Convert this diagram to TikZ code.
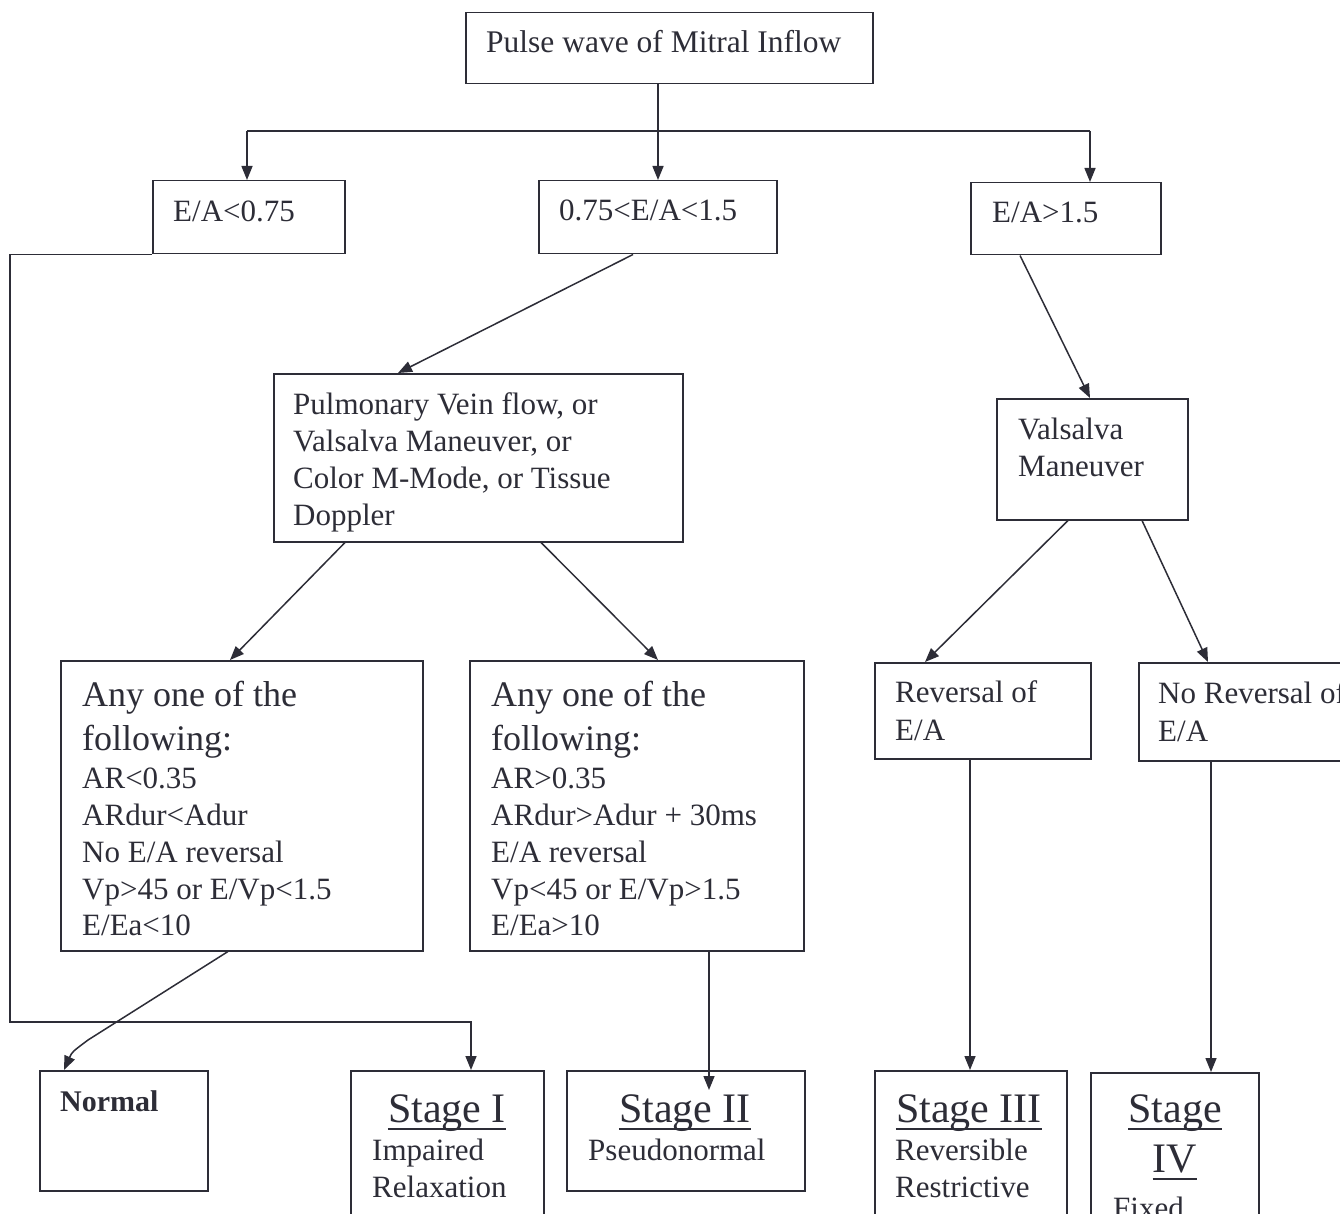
\documentclass[tikz,border=0pt]{standalone}
\usepackage{fontspec}
\setmainfont{Liberation Serif}
\usetikzlibrary{arrows.meta}
\definecolor{ink}{RGB}{45,45,55}
\newcommand\bx[5]{\node[box,minimum width=#4pt,minimum height=#5pt] (#1) at (#2,#3) {};}
\begin{document}
\begin{tikzpicture}[x=1pt,y=-1pt,
  box/.style={draw=ink, line width=1.5pt, inner sep=0pt, anchor=north west},
  txt/.style={text=ink, anchor=base west, inner sep=0pt, font=\fontsize{31}{37}\selectfont},
  big/.style={txt, font=\fontsize{36}{42}\selectfont},
  ttl/.style={text=ink, anchor=base, inner sep=0pt, font=\fontsize{42}{46}\selectfont},
  ul/.style={draw=ink, line width=2pt},
  con/.style={draw=ink, line width=1.5pt},
  arr/.style={con, -{Triangle[length=14pt,width=11pt]}},
]
\useasboundingbox (0,0) rectangle (1340,1214);
\clip (0,0) rectangle (1340,1214);
\fill[white] (0,0) rectangle (1340,1214);

% boxes
\bx{top}{465}{12}{407}{71}
\bx{lo}{152}{180}{192}{73}
\bx{mid}{538}{180}{238}{73}
\bx{hi}{970}{182}{190}{72}
\bx{pulm}{273}{373}{409}{168}
\bx{anyL}{60}{660}{362}{290}
\bx{anyR}{469}{660}{334}{290}
\bx{vals}{996}{398}{191}{121}
\bx{rev}{874}{662}{216}{96}
\bx{norev}{1138}{662}{260}{98}
\bx{normal}{39}{1070}{168}{120}
\bx{s1}{350}{1070}{193}{160}
\bx{s2}{566}{1070}{238}{120}
\bx{s3}{874}{1070}{192}{160}
\bx{s4}{1090}{1072}{168}{160}

% texts
\node[txt, font=\fontsize{31.5}{36}\selectfont] (t0) at (486,53) {Pulse wave of Mitral Inflow};
\node[txt] (tlo) at (173,222) {E/A<0.75};
\node[txt] (tmid) at (559,221) {0.75<E/A<1.5};
\node[txt] (thi) at (992,223) {E/A>1.5};

\node[txt] (p1) at (293,414) {Pulmonary Vein flow, or};
\node[txt] (p2) at (293,451) {Valsalva Maneuver, or};
\node[txt] (p3) at (293,488) {Color M-Mode, or Tissue};
\node[txt] (p4) at (293,525) {Doppler};

\node[big] (l1) at (82,706) {Any one of the};
\node[big] (l2) at (82,750) {following:};
\node[txt] (l3) at (82,788) {AR<0.35};
\node[txt] (l4) at (82,825) {ARdur<Adur};
\node[txt] (l5) at (82,862) {No E/A reversal};
\node[txt] (l6) at (82,899) {Vp>45 or E/Vp<1.5};
\node[txt] (l7) at (82,935) {E/Ea<10};

\node[big] (r1) at (491,706) {Any one of the};
\node[big] (r2) at (491,750) {following:};
\node[txt] (r3) at (491,788) {AR>0.35};
\node[txt] (r4) at (491,825) {ARdur>Adur + 30ms};
\node[txt] (r5) at (491,862) {E/A reversal};
\node[txt] (r6) at (491,899) {Vp<45 or E/Vp>1.5};
\node[txt] (r7) at (491,935) {E/Ea>10};

\node[txt] (v1) at (1018,439) {Valsalva};
\node[txt] (v2) at (1018,476) {Maneuver};

\node[txt] (rv1) at (895,702) {Reversal of};
\node[txt] (rv2) at (895,740) {E/A};
\node[txt] (nr1) at (1158,703) {No Reversal of};
\node[txt] (nr2) at (1158,741) {E/A};

\node[txt, font=\fontsize{30}{34}\bfseries] (tn) at (60,1111) {Normal};

\node[ttl] (s1a) at (447,1122) {Stage I};
\draw[ul] ([yshift=-7pt]s1a.base west) -- ([yshift=-7pt]s1a.base east);
\node[txt] (s1b) at (372,1160) {Impaired};
\node[txt] (s1c) at (372,1197) {Relaxation};

\node[ttl] (s2a) at (685,1122) {Stage II};
\draw[ul] ([yshift=-7pt]s2a.base west) -- ([yshift=-7pt]s2a.base east);
\node[txt] (s2b) at (588,1160) {Pseudonormal};

\node[ttl] (s3a) at (969,1122) {Stage III};
\draw[ul] ([yshift=-7pt]s3a.base west) -- ([yshift=-7pt]s3a.base east);
\node[txt] (s3b) at (895,1160) {Reversible};
\node[txt] (s3c) at (895,1197) {Restrictive};

\node[ttl] (s4a) at (1175,1122) {Stage};
\draw[ul] ([yshift=-7pt]s4a.base west) -- ([yshift=-7pt]s4a.base east);
\node[ttl] (s4b) at (1175,1172) {IV};
\draw[ul] ([yshift=-7pt]s4b.base west) -- ([yshift=-7pt]s4b.base east);
\node[txt] (s4c) at (1113,1218) {Fixed};

% connectors
\coordinate (jL) at (247,131);
\coordinate (jM) at (658,131);
\coordinate (jR) at (1090,131);
\draw[arr] (top.south -| jM) -- (mid.north -| jM);
\draw[con] (jL) -- (jR);
\draw[arr] (jL) -- (jL |- lo.north);
\draw[arr] (jR) -- (jR |- hi.north);

\coordinate (c1) at (10,1022);
\coordinate (c2) at (471,1022);
\draw[arr] (lo.south west) -- (lo.south west -| c1) -- (c1) -- (c2) -- (c2 |- s1.north);

\draw[arr] ([xshift=95pt]mid.south west) -- ([xshift=125pt]pulm.north west);
\draw[arr] ([xshift=72pt]pulm.south west) -- ([xshift=170pt]anyL.north west);
\draw[arr] ([xshift=268pt]pulm.south west) -- ([xshift=189pt]anyR.north west);

\coordinate (nk) at (88,1040);
\draw[arr] ([xshift=168pt]anyL.south west) -- (nk) .. controls (72,1052) .. ([xshift=25pt]normal.north west);

\coordinate (e2) at (709,1090);
\draw[arr] ([xshift=240pt]anyR.south west) -- (e2);

\draw[arr] ([xshift=50pt]hi.south west) -- ([xshift=94pt]vals.north west);
\draw[arr] ([xshift=72pt]vals.south west) -- ([xshift=51pt]rev.north west);
\draw[arr] ([xshift=146pt]vals.south west) -- ([xshift=70pt]norev.north west);
\draw[arr] ([xshift=96pt]rev.south west) -- ([xshift=96pt]s3.north west);
\draw[arr] ([xshift=73pt]norev.south west) -- ([xshift=121pt]s4.north west);
\end{tikzpicture}
\end{document}
